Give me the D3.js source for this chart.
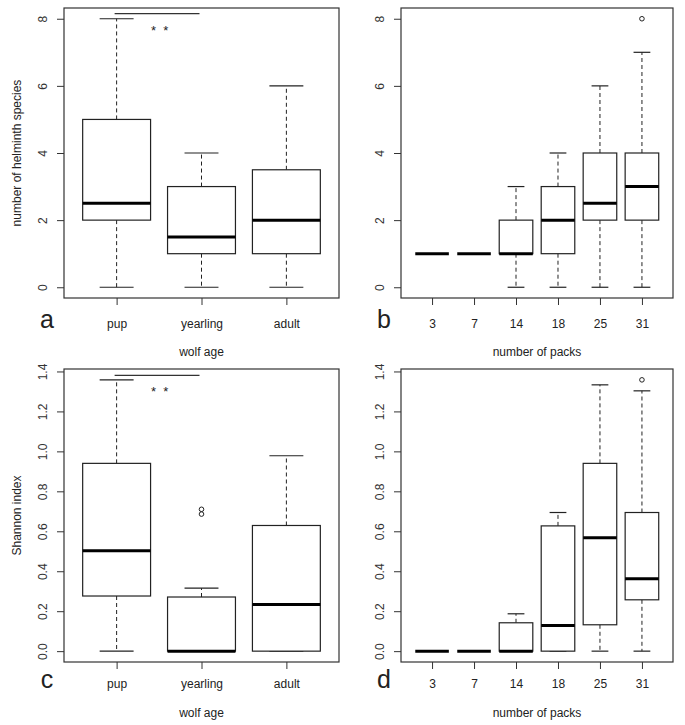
<!DOCTYPE html>
<html>
<head>
<meta charset="utf-8">
<script src="https://cdn.jsdelivr.net/npm/d3@7"></script>
<style>
  html, body { margin: 0; padding: 0; background: #fff; }
  svg { display: block; font-family: "Liberation Sans", Arial, sans-serif; }
</style>
</head>
<body>
<svg id="chart" width="685" height="725"></svg>
<script>
// ---------- data ----------
const ageGroups  = ["pup", "yearling", "adult"];
const packGroups = ["3", "7", "14", "18", "25", "31"];

// [lower whisker, Q1, median, Q3, upper whisker]
const speciesByAge   = [[0, 2, 2.5, 5, 8], [0, 1, 1.5, 3, 4], [0, 1, 2, 3.5, 6]];
const speciesByAgeOut = [[], [], []];
const speciesByPack  = [[1, 1, 1, 1, 1], [1, 1, 1, 1, 1], [0, 1, 1, 2, 3], [0, 1, 2, 3, 4], [0, 2, 2.5, 4, 6], [0, 2, 3, 4, 7]];
const speciesByPackOut = [[], [], [], [], [], [8]];

const shannonByAge   = [[0, 0.276, 0.502, 0.94, 1.358], [0, 0, 0, 0.271, 0.315], [0, 0, 0.234, 0.629, 0.978]];
const shannonByAgeOut = [[], [0.686, 0.71], []];
const shannonByPack  = [[0, 0, 0, 0, 0], [0, 0, 0, 0, 0], [0, 0, 0, 0.142, 0.187], [0, 0, 0.129, 0.627, 0.694], [0, 0.132, 0.568, 0.94, 1.333], [0, 0.257, 0.363, 0.694, 1.303]];
const shannonByPackOut = [[], [], [], [], [], [1.358]];

const speciesTicks = [0, 2, 4, 6, 8];
const shannonTicks = [0, 0.2, 0.4, 0.6, 0.8, 1.0, 1.2, 1.4];

// significance bars: [from group, to group, bar value, star value]
const sigSpecies = [1, 2, 8.15, 7.72];
const sigShannon = [1, 2, 1.38, 1.315];

// ---------- layout ----------
const svg = d3.select("#chart");
const ink = "#222";

const panels = [
  { letter: "a", groups: ageGroups,  stats: speciesByAge,  out: speciesByAgeOut,  ticks: speciesTicks, fmt: d3.format("d"),
    xTitle: "wolf age", yTitle: "number of helminth species", sig: sigSpecies,
    frame: { l: 64, r: 339, t: 8, b: 298 }, tickBase: 328, titleBase: 356 },
  { letter: "b", groups: packGroups, stats: speciesByPack, out: speciesByPackOut, ticks: speciesTicks, fmt: d3.format("d"),
    xTitle: "number of packs", yTitle: null, sig: null,
    frame: { l: 401, r: 673, t: 8, b: 298 }, tickBase: 328, titleBase: 356 },
  { letter: "c", groups: ageGroups,  stats: shannonByAge,  out: shannonByAgeOut,  ticks: shannonTicks, fmt: d3.format(".1f"),
    xTitle: "wolf age", yTitle: "Shannon index", sig: sigShannon,
    frame: { l: 64, r: 339, t: 369, b: 662 }, tickBase: 688, titleBase: 717 },
  { letter: "d", groups: packGroups, stats: shannonByPack, out: shannonByPackOut, ticks: shannonTicks, fmt: d3.format(".1f"),
    xTitle: "number of packs", yTitle: null, sig: null,
    frame: { l: 401, r: 673, t: 369, b: 662 }, tickBase: 688, titleBase: 717 }
];

panels.forEach(p => {
  const f = p.frame;
  const n = p.groups.length;
  const xExt = 0.04 * n;
  const x = d3.scaleLinear().domain([0.5 - xExt, n + 0.5 + xExt]).range([f.l, f.r]);

  const allVals = p.stats.flat().concat(p.out.flat());
  const lo = d3.min(allVals), hi = d3.max(allVals);
  const yExt = 0.04 * (hi - lo);
  const y = d3.scaleLinear().domain([lo - yExt, hi + yExt]).range([f.b, f.t]);

  const g = svg.append("g");
  const unit = x(2) - x(1);
  const bw = 0.8 * unit;

  // boxes
  p.stats.forEach((s, i) => {
    const cx = x(i + 1);
    const [wl, q1, med, q3, wh] = s;
    const bg = g.append("g");
    // whiskers (dashed)
    bg.append("line").attr("x1", cx).attr("x2", cx).attr("y1", y(q3)).attr("y2", y(wh))
      .attr("stroke", ink).attr("stroke-width", 1).attr("stroke-dasharray", "4,3");
    bg.append("line").attr("x1", cx).attr("x2", cx).attr("y1", y(q1)).attr("y2", y(wl))
      .attr("stroke", ink).attr("stroke-width", 1).attr("stroke-dasharray", "4,3");
    // caps
    [wl, wh].forEach(v => {
      bg.append("line").attr("x1", cx - bw / 4).attr("x2", cx + bw / 4).attr("y1", y(v)).attr("y2", y(v))
        .attr("stroke", ink).attr("stroke-width", 1.2);
    });
    // box
    bg.append("rect").attr("x", cx - bw / 2).attr("y", y(q3)).attr("width", bw).attr("height", Math.max(0, y(q1) - y(q3)))
      .attr("fill", "#fff").attr("stroke", ink).attr("stroke-width", 1.2);
    // median
    bg.append("line").attr("x1", cx - bw / 2).attr("x2", cx + bw / 2).attr("y1", y(med)).attr("y2", y(med))
      .attr("stroke", "#000").attr("stroke-width", 3);
    // outliers
    p.out[i].forEach(v => {
      bg.append("circle").attr("cx", cx).attr("cy", y(v)).attr("r", 2.3)
        .attr("fill", "none").attr("stroke", ink).attr("stroke-width", 1);
    });
  });

  // frame
  g.append("rect").attr("x", f.l).attr("y", f.t).attr("width", f.r - f.l).attr("height", f.b - f.t)
    .attr("fill", "none").attr("stroke", "#333").attr("stroke-width", 1.2);

  // y axis
  const yAxis = g.append("g").attr("transform", `translate(${f.l},0)`)
    .call(d3.axisLeft(y).tickValues(p.ticks).tickFormat(p.fmt).tickSize(7).tickSizeOuter(0));
  yAxis.select(".domain").remove();
  yAxis.selectAll(".tick line").attr("stroke", "#333");
  yAxis.selectAll(".tick text")
    .attr("x", null).attr("dy", null)
    .attr("text-anchor", "middle")
    .attr("transform", "translate(-17,0) rotate(-90)")
    .attr("font-size", 12).attr("fill", "#333")
    .attr("font-family", "Liberation Sans, Arial, sans-serif");

  // x axis
  const xAxis = g.append("g").attr("transform", `translate(0,${f.b})`)
    .call(d3.axisBottom(x).tickValues(d3.range(1, n + 1)).tickFormat(i => p.groups[i - 1]).tickSize(7).tickSizeOuter(0));
  xAxis.select(".domain").remove();
  xAxis.selectAll(".tick line").attr("stroke", "#333");
  xAxis.selectAll(".tick text")
    .attr("y", p.tickBase - f.b).attr("dy", null)
    .attr("font-size", 12).attr("fill", "#222")
    .attr("font-family", "Liberation Sans, Arial, sans-serif");

  // panel letter
  g.append("text").attr("x", f.l - 17).attr("y", p.tickBase).attr("text-anchor", "middle")
    .attr("font-size", 25).attr("fill", "#222").text(p.letter);

  // x title
  g.append("text").attr("x", (f.l + f.r) / 2).attr("y", p.titleBase).attr("text-anchor", "middle")
    .attr("font-size", 12).attr("fill", "#222").text(p.xTitle);

  // y title
  if (p.yTitle) {
    g.append("text").attr("transform", `translate(21,${(f.t + f.b) / 2}) rotate(-90)`)
      .attr("text-anchor", "middle").attr("font-size", 12).attr("fill", "#222").text(p.yTitle);
  }

  // significance
  if (p.sig) {
    const [g1, g2, barV, starV] = p.sig;
    g.append("line").attr("x1", x(g1) - 2).attr("x2", x(g2) - 2).attr("y1", y(barV)).attr("y2", y(barV))
      .attr("stroke", "#333").attr("stroke-width", 1.2);
    g.append("text").attr("x", x((g1 + g2) / 2) + 0.5).attr("y", y(starV)).attr("dy", "0.55em")
      .attr("text-anchor", "middle").attr("font-size", 13).attr("fill", "#222")
      .attr("xml:space", "preserve").style("white-space", "pre").text("*  *");
  }
});
</script>
</body>
</html>
